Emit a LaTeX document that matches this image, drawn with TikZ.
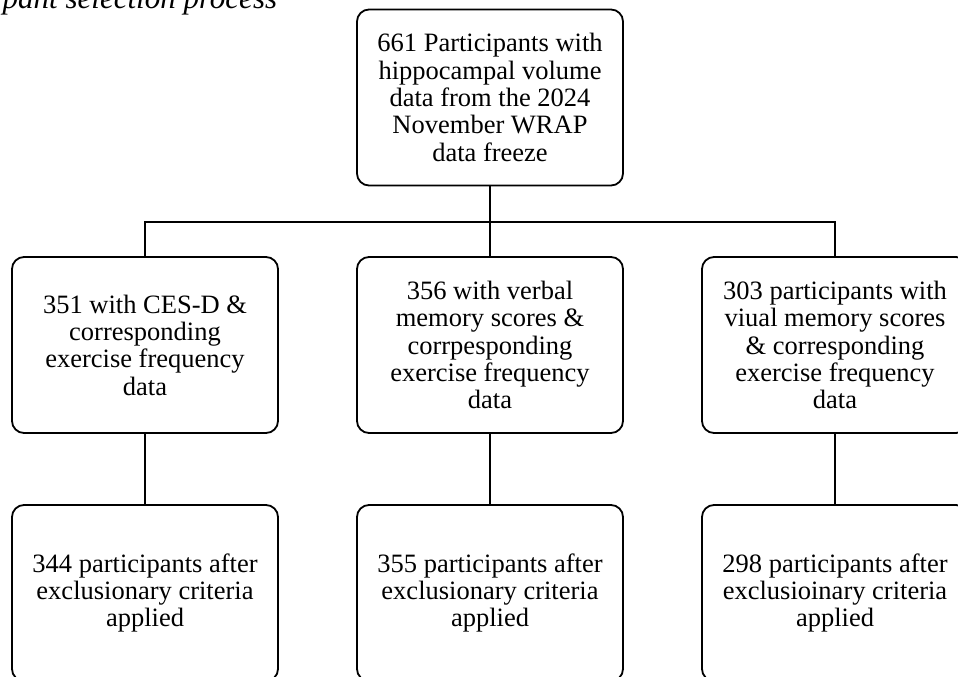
\documentclass[tikz,border=0pt]{standalone}
\usepackage{fontspec}
\setmainfont{Liberation Serif}
\begin{document}
\begin{tikzpicture}[x=1pt,y=-1pt,line width=1.8pt,
    stage/.style={draw,rounded corners=12pt,minimum width=266pt,minimum height=176pt,
        inner sep=0pt,align=center,font=\fontsize{26.5}{27.3}\selectfont},
    link/.style={line width=1.8pt}]
    \useasboundingbox (0,0) rectangle (958,677);
    \clip (0,0) rectangle (958,677);
    % caption, cut at the top
    \node[anchor=base east,inner sep=0pt,font=\fontsize{31}{34}\selectfont\itshape] (title) at (278,8.5) {pant selection process};
    % boxes
    \node[stage] (all) at (490,97.5) {661 Participants with\\hippocampal volume\\data from the 2024\\November WRAP\\data freeze};
    \node[stage] (cesd) at (145,345) {351 with CES-D \&\\corresponding\\exercise frequency\\data};
    \node[stage] (verbal) at (490,345) {356 with verbal\\memory scores \&\\corrpesponding\\exercise frequency\\data};
    \node[stage] (visual) at (835,345) {303 participants with\\viual memory scores\\\& corresponding\\exercise frequency\\data};
    \node[stage] (cesdx) at (145,593) {344 participants after\\exclusionary criteria\\applied};
    \node[stage] (verbalx) at (490,593) {355 participants after\\exclusionary criteria\\applied};
    \node[stage] (visualx) at (835,593) {298 participants after\\exclusioinary criteria\\applied};
    % connectors
    \coordinate (split) at (490,221.7);
    \draw[link] (all) -- (split);
    \draw[link] (cesd.north) |- (split) -| (visual.north);
    \draw[link] (split) -- (verbal);
    \foreach \a/\b in {cesd/cesdx,verbal/verbalx,visual/visualx}
        \draw[link] (\a) -- (\b);
\end{tikzpicture}
\end{document}
